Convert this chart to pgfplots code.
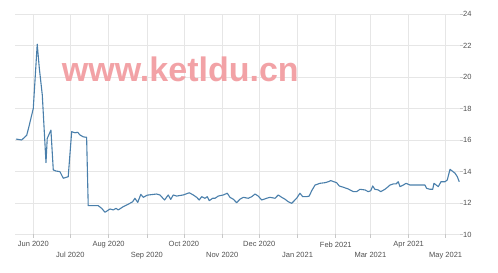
\documentclass[border=0pt]{standalone}
\usepackage{fontspec}
\setmainfont{Liberation Sans}
\usepackage{pgfplots}
\pgfplotsset{compat=1.18}
\definecolor{linec}{HTML}{4A7FAB}
\definecolor{gridc}{HTML}{E6E6E6}
\definecolor{labc}{HTML}{505050}
\definecolor{wm}{HTML}{F2A2A6}
\begin{document}
\begin{tikzpicture}[x=1pt,y=1pt]
\path[use as bounding box] (0,0) rectangle (498,273);
\begin{axis}[
  at={(15pt,38.5pt)}, anchor=south west,
  scale only axis, width=445pt, height=220.5pt,
  xmin=-14.8, xmax=345.6, ymin=10, ymax=24,
  ytick={10,12,...,24},
  xtick={0,61,122,183,245,304},
  xticklabels={Jun 2020,Aug 2020,Oct 2020,Dec 2020,Feb 2021,Apr 2021},
  extra x ticks={30,92,153,214,273,334},
  extra x tick labels={Jul 2020,Sep 2020,Nov 2020,Jan 2021,Mar 2021,May 2021},
  extra x tick style={grid=major, tick label style={yshift=-10.7pt}},
  grid=major,
  major grid style={gridc, line width=0.6pt},
  axis line style={draw=none},
  tick align=outside,
  xtick pos=bottom,
  ytick pos=right,
  yticklabel pos=right,
  major tick length=3pt,
  every tick/.style={gridc!70!gray, line width=0.6pt},
  x tick label style={font=\fontsize{7.5}{8}\selectfont, text=labc, inner sep=0pt, anchor=north, yshift=-4pt},
  y tick label style={font=\fontsize{7.5}{8}\selectfont, text=labc, inner sep=0pt, anchor=west, xshift=0pt},
  /pgf/number format/assume math mode=true,
  clip=false,
]
\addplot[color=linec, line width=1.1pt, line join=round] coordinates {
(-14.0,16.06) (-9.4,16.0) (-5.3,16.3) (-3.2,16.95) (0,18.0) (3.2,22.08) (4.9,20.55) (7.3,18.86)
(10.3,14.56) (11.3,16.1) (14.3,16.63) (16.2,14.1) (18.4,14.03) (21.6,13.99) (24.3,13.57) (28.3,13.67)
(31.1,16.53) (33.8,16.46) (36,16.49) (37.8,16.32) (40.5,16.2) (43.2,16.17) (44.5,11.83) (50,11.83)
(52.6,11.83) (55.4,11.66) (58.1,11.41) (62.1,11.62) (64.8,11.56) (67,11.66) (68.8,11.56) (72.9,11.77)
(76.9,11.92) (80.5,12.08) (82.3,12.3) (84.6,12.04) (87.1,12.55) (89.1,12.36) (92.3,12.5) (99.9,12.57)
(102.6,12.51) (106.3,12.19) (109.3,12.51) (111.3,12.23) (113.4,12.51) (116.1,12.44) (121.5,12.51)
(126.3,12.65) (129.6,12.51) (132.3,12.36) (134.4,12.19) (136.4,12.4) (139.1,12.3) (140.9,12.4)
(142.5,12.15) (145.3,12.3) (147.2,12.3) (149.8,12.44) (153.9,12.51) (157.1,12.62) (159.3,12.36)
(162,12.24) (164.7,12.02) (167.4,12.24) (170.1,12.36) (174.1,12.3) (176.9,12.4) (179.6,12.57)
(182.2,12.44) (185,12.19) (189,12.3) (191.7,12.36) (195.8,12.3) (198.4,12.51) (201.2,12.36)
(203.9,12.24) (206.5,12.08) (209.3,11.98) (213.3,12.3) (216,12.62) (218.2,12.4) (221.4,12.4)
(223.5,12.44) (225.5,12.78) (228.2,13.14) (232.2,13.25) (236.3,13.29) (238.9,13.35) (240.9,13.42)
(243.5,13.35) (245.7,13.29) (247.8,13.08) (251.1,13.0) (255.1,12.89) (259.2,12.72) (261.9,12.72)
(264.6,12.87) (268.6,12.83) (271.3,12.72) (273.3,12.78) (274.9,13.08) (276.7,12.87) (279.4,12.83)
(281.4,12.72) (284.8,12.87) (287.5,13.04) (288.9,13.14) (291.6,13.21) (293.8,13.21) (295.6,13.35)
(297,13.04) (299.7,13.14) (301.9,13.25) (305.1,13.14) (309.1,13.14) (313.2,13.14) (317.2,13.14)
(318.6,12.93) (321.3,12.87) (323.5,12.87) (324.5,13.25) (328,13.04) (330.2,13.35) (333.4,13.35)
(335.3,13.46) (337.5,14.14) (341.6,13.89) (343.4,13.67) (345,13.35)
};
\end{axis}
\node[anchor=base west, inner sep=0pt, text=wm, font=\fontsize{34}{34}\selectfont\bfseries] at (61.7,191) {www.ketldu.cn};
\end{tikzpicture}
\end{document}
